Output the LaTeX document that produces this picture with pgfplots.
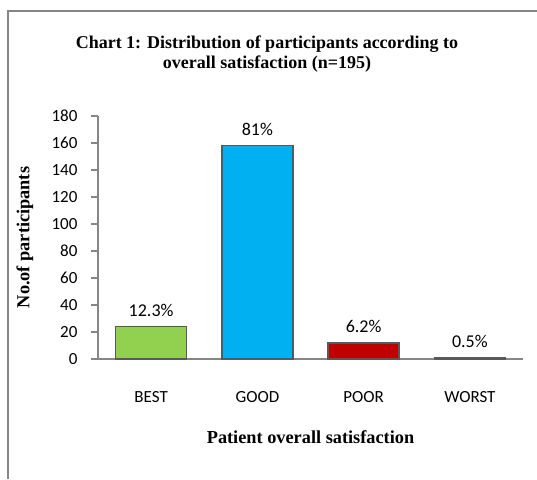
\documentclass[border=0pt]{standalone}
\usepackage{pgfplots}
\pgfplotsset{compat=1.18}
\usepackage{fontspec}
\setmainfont{Liberation Serif}
\newfontfamily\calfont{Carlito}
\definecolor{cgreen}{HTML}{92D050}
\definecolor{cblue}{HTML}{00B0F0}
\definecolor{cred}{HTML}{C00000}
\definecolor{cgray}{HTML}{595959}
\definecolor{axgray}{HTML}{868686}
\begin{document}
\begin{tikzpicture}
\path[use as bounding box] (0pt,0pt) rectangle (537pt,-479pt);
\draw[axgray, line width=1.6pt] (8pt,-479pt) -- (8pt,-11pt) -- (537pt,-11pt);
\node[font=\bfseries\fontsize{18}{19.5}\selectfont, align=center] at (267pt,-54pt)
  {Chart 1: Distribution of participants according to\\overall satisfaction (n=195)};
\begin{axis}[
  at={(98pt,-359pt)}, anchor=south west,
  scale only axis, width=425pt, height=243pt,
  xmin=-0.5, xmax=3.5, ymin=0, ymax=180,
  ytick={0,20,...,180},
  xtick={0,1,2,3}, xticklabels={BEST,GOOD,POOR,WORST},
  axis x line*=bottom, axis y line*=left,
  axis line style={axgray, line width=1.2pt},
  x axis line style={-}, y axis line style={-},
  xtick style={draw=none},
  ytick style={axgray, line width=1.2pt},
  tick align=outside, major tick length=7pt,
  /pgf/number format/assume math mode=true,
  ticklabel style={font=\calfont\fontsize{17}{17}\selectfont, text=black},
  yticklabel style={xshift=-10pt},
  xticklabel style={yshift=-22pt},
  xlabel={Patient overall satisfaction},
  ylabel={No.of participants},
  label style={font=\bfseries\fontsize{18.3}{18.3}\selectfont},
  xlabel style={at={(0.5,0)}, anchor=center, yshift=-78pt},
  every axis y label/.append style={at={(-73pt,121.5pt)}, anchor=center},
  ybar, bar width=71pt, bar shift=0pt,
  nodes near coords,
  point meta=explicit symbolic,
  every node near coord/.append style={font=\calfont\fontsize{18}{18}\selectfont, text=black, yshift=6pt},
]
\addplot[fill=cgreen, draw=cgray, line width=1.5pt] coordinates {(0,24) [12.3\%]};
\addplot[fill=cblue, draw=cgray, line width=1.5pt] coordinates {(1,158) [81\%]};
\addplot[fill=cred, draw=cgray, line width=1.5pt] coordinates {(2,12) [6.2\%]};
\addplot[fill=cgray, draw=cgray, line width=1.5pt] coordinates {(3,1) [0.5\%]};
\end{axis}
\end{tikzpicture}
\end{document}
